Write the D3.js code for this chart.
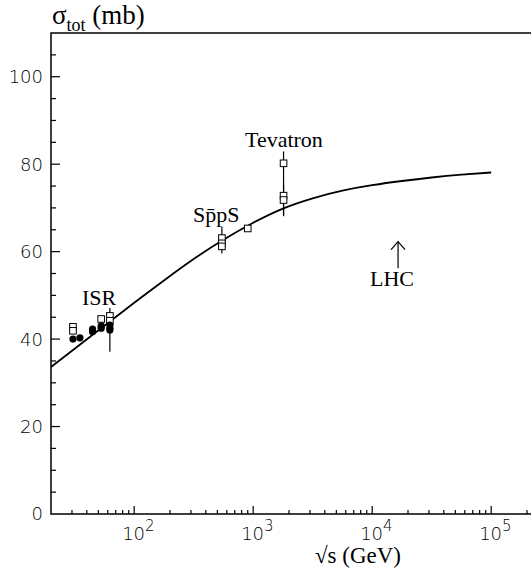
<!DOCTYPE html>
<html>
<head>
<meta charset="utf-8">
<script src="https://cdn.jsdelivr.net/npm/d3@7"></script>
<style>
  body { margin: 0; background: #fff; }
  svg { display: block; }
  .tick-label { font-family: 'DejaVu Sans', sans-serif; font-weight: 200; fill: #000; }
  .serif { font-family: 'Liberation Serif', 'Times New Roman', serif; fill: #000; }
</style>
</head>
<body>
<script>
// --- data ---
// ISR, open squares
var isrOpenE     = [30.6, 30.6, 52.8, 62.5, 62.5];
var isrOpenSigma = [42.8, 41.9, 44.6, 45.3, 44.2];
// ISR, filled circles
var isrFullE     = [30.6, 35, 44.7, 44.7, 52.8, 52.8, 62.5, 62.5, 62.5];
var isrFullSigma = [40.0, 40.3, 41.7, 42.3, 42.5, 43.0, 43.2, 42.5, 42.1];
var isrFullErr   = [0, 0, 0, 0, 0, 0, 0, 0, 5.0];
// SppS (546 GeV) and 900 GeV
var sppsE     = [546, 546, 546, 900];
var sppsSigma = [63.1, 61.9, 61.2, 65.3];
var sppsErr   = [2.6, 1.5, 1.6, 0.6];
// Tevatron (1800 GeV)
var tevE     = [1800, 1800, 1800];
var tevSigma = [80.2, 72.8, 71.8];
var tevErr   = [2.7, 4.7, 3.4];
// fitted curve
var curveE     = [20, 31.6, 56.2, 100, 178, 316, 562, 1000, 1778, 3162, 5623, 10000, 17783, 31623, 56234, 100000];
var curveSigma = [33.6, 37.8, 43.05, 48.3, 53.4, 58.3, 62.7, 66.6, 69.85, 72.2, 73.95, 75.2, 76.15, 76.95, 77.6, 78.1];
// LHC arrow
var lhcE = 16500, lhcFrom = 56.2, lhcTo = 62.3;
// axes
var yTicks = [0, 20, 40, 60, 80, 100];
var xDecades = [2, 3, 4, 5];

var W = 531, H = 569;
var padLeft = 51, padTop = 33, padBottom = 514;

var svg = d3.select("body").append("svg")
    .attr("width", W)
    .attr("height", H);

var x = d3.scaleLog().domain([20, 3e5]).range([padLeft, padLeft + Math.log10(3e5 / 20) * 119]);
var y = d3.scaleLinear().domain([0, 110]).range([padBottom, padTop]);

// frame
svg.append("path")
    .attr("d", "M" + W + "," + padTop + "H" + padLeft + "V" + padBottom + "H" + W)
    .attr("fill", "none")
    .attr("stroke", "#000")
    .attr("stroke-width", 1.5);

// y ticks (inside), every 5, long at labelled ones
var yMinor = d3.range(5, 110, 5);
svg.selectAll(".ytick").data(yMinor).enter().append("line")
    .attr("x1", padLeft).attr("x2", function(d) { return padLeft + (d % 20 === 0 ? 9 : 5); })
    .attr("y1", function(d) { return y(d); }).attr("y2", function(d) { return y(d); })
    .attr("stroke", "#000").attr("stroke-width", 1.2);

svg.selectAll(".ylab").data(yTicks).enter().append("text")
    .attr("class", "tick-label")
    .attr("x", 43)
    .attr("y", function(d) { return y(d); })
    .attr("dy", "0.36em")
    .attr("text-anchor", "end")
    .attr("font-size", 18)
    .text(function(d) { return d; });

// x ticks (inside)
var xAll = [];
for (var dec = 1; dec <= 5; dec++) {
  for (var m = 1; m <= 9; m++) {
    var v = m * Math.pow(10, dec);
    if (v > 20 && v <= 3e5) xAll.push(v);
  }
}
svg.selectAll(".xtick").data(xAll).enter().append("line")
    .attr("x1", function(d) { return x(d); }).attr("x2", function(d) { return x(d); })
    .attr("y1", padBottom)
    .attr("y2", function(d) { return padBottom - (Math.abs(Math.log10(d) % 1) < 1e-9 ? 8 : 4); })
    .attr("stroke", "#000").attr("stroke-width", 1.2);

var xl = svg.selectAll(".xlab").data(xDecades).enter().append("text")
    .attr("class", "tick-label")
    .attr("x", function(d) { return x(Math.pow(10, d)) - 12; })
    .attr("y", 540)
    .attr("font-size", 18);
xl.append("tspan").text("10");
xl.append("tspan").attr("dy", -9).attr("font-size", 15).text(function(d) { return d; });

// axis titles
var yt = svg.append("text").attr("class", "serif").attr("x", 52).attr("y", 24).attr("font-size", 27);
yt.append("tspan").text("σ");
yt.append("tspan").attr("dy", 7).attr("font-size", 18).text("tot");
yt.append("tspan").attr("dy", -7).text(" (mb)");

svg.append("text").attr("class", "serif")
    .attr("x", 358).attr("y", 563)
    .attr("text-anchor", "middle")
    .attr("font-size", 23)
    .text("√s (GeV)");

// curve
var line = d3.line()
    .x(function(d) { return x(d[0]); })
    .y(function(d) { return y(d[1]); })
    .curve(d3.curveNatural);
svg.append("path")
    .datum(d3.zip(curveE, curveSigma))
    .attr("d", line)
    .attr("fill", "none")
    .attr("stroke", "#000")
    .attr("stroke-width", 1.8);

// error bars
function errBars(E, S, Err) {
  var d = d3.zip(E, S, Err).filter(function(p) { return p[2] > 0; });
  svg.selectAll(null).data(d).enter().append("line")
      .attr("x1", function(p) { return x(p[0]); }).attr("x2", function(p) { return x(p[0]); })
      .attr("y1", function(p) { return y(p[1] - p[2]); }).attr("y2", function(p) { return y(p[1] + p[2]); })
      .attr("stroke", "#000").attr("stroke-width", 1.2);
}
errBars(isrFullE, isrFullSigma, isrFullErr);
errBars(sppsE, sppsSigma, sppsErr);
errBars(tevE, tevSigma, tevErr);

// open squares
function squares(E, S) {
  svg.selectAll(null).data(d3.zip(E, S)).enter().append("rect")
      .attr("x", function(p) { return x(p[0]) - 3.3; })
      .attr("y", function(p) { return y(p[1]) - 3.3; })
      .attr("width", 6.6).attr("height", 6.6)
      .attr("fill", "#fff").attr("stroke", "#000").attr("stroke-width", 1);
}
squares(isrOpenE, isrOpenSigma);
squares(sppsE, sppsSigma);
squares(tevE, tevSigma);

// filled circles
svg.selectAll(".dot").data(d3.zip(isrFullE, isrFullSigma)).enter().append("circle")
    .attr("cx", function(p) { return x(p[0]); })
    .attr("cy", function(p) { return y(p[1]); })
    .attr("r", 3.6)
    .attr("fill", "#000");

// annotations
svg.append("text").attr("class", "serif").attr("x", 82).attr("y", 305).attr("font-size", 22).text("ISR");
svg.append("text").attr("class", "serif").attr("x", 193).attr("y", 222).attr("font-size", 22).text("Sp\u0304pS");
svg.append("text").attr("class", "serif").attr("x", 245).attr("y", 147).attr("font-size", 22).text("Tevatron");
svg.append("text").attr("class", "serif").attr("x", x(lhcE) - 6).attr("y", 286)
    .attr("text-anchor", "middle").attr("font-size", 22).text("LHC");

// LHC arrow
var ax = x(lhcE);
svg.append("line")
    .attr("x1", ax).attr("x2", ax)
    .attr("y1", y(lhcFrom)).attr("y2", y(lhcTo))
    .attr("stroke", "#000").attr("stroke-width", 1.2);
svg.append("path")
    .attr("d", "M" + (ax - 7) + "," + (y(lhcTo) + 8) + "L" + ax + "," + y(lhcTo) + "L" + (ax + 7) + "," + (y(lhcTo) + 8))
    .attr("fill", "none").attr("stroke", "#000").attr("stroke-width", 1.2);
</script>
</body>
</html>
